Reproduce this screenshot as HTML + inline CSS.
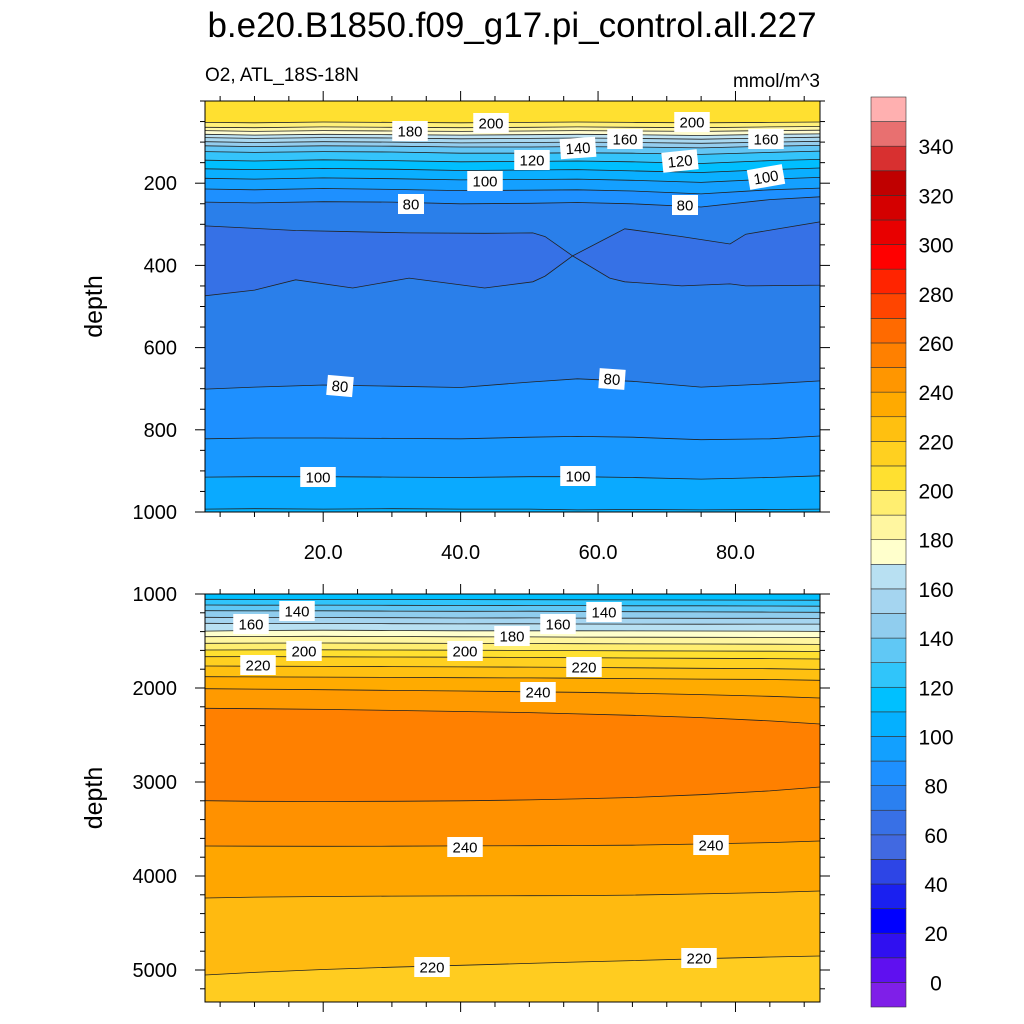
<!DOCTYPE html>
<html><head><meta charset="utf-8"><style>
body{margin:0;background:#fff}
svg{display:block;font-family:"Liberation Sans",sans-serif}
</style></head><body>
<svg id="chart" width="1024" height="1024" viewBox="0 0 1024 1024">
<text x="512" y="37" text-anchor="middle" font-size="35">b.e20.B1850.f09_g17.pi_control.all.227</text>
<text x="205" y="81" font-size="19">O2, ATL_18S-18N</text>
<text x="820" y="87" text-anchor="end" font-size="19">mmol/m^3</text>
<g id="top"></g><g id="bot"></g><g id="cb"></g>
</svg>
<script>
// ---- data ----
const xs = [2.8,10,20,30,40,50,57,65,75,85,92.3];
const topLines = [
[52,53,51,52,53,52,51,52,53,52,51],
[64,65,63,64,65,64,63,64,65,63,62],
[72,74,72,73,74,73,72,73,74,72,71],
[81,83,81,82,83,82,81,82,84,81,80],
[89,91,89,90,92,91,90,91,93,90,88],
[99,101,99,100,102,101,100,101,103,100,98],
[109,111,109,110,112,112,111,112,114,110,108],
[123,125,123,124,127,127,126,127,130,125,122],
[144,146,143,145,148,147,146,148,152,145,142],
[165,167,164,166,169,168,167,170,174,167,163],
[188,190,187,189,192,191,190,193,198,190,186],
[214,216,213,215,218,217,216,219,226,216,212],
[246,248,245,246,250,249,247,250,258,240,233],
[701,696,691,694,697,684,676,682,696,688,681],
[822,820,820,821,822,818,816,818,824,822,815],
[915,914,914,915,916,914,914,916,920,916,912],
[993,992,993,992,993,993,995,994,995,994,993]];
const topColors = ["#ffe030","#fff07a","#fff7a8","#fffcd0","#bfe3f3","#a9d8f0","#94cdee","#63c6f5","#34c4fb","#00bfff","#0aafff","#14a0ff","#1e90ff","#2a7fea","#1e90ff","#1898ff","#0aaaff","#05b5ff"];
const blobX = [2.8,10,16,24.3,32.5,43.5,50.5,52.3,56.3,61.7,63.9,72.2,79.2,81.5,92.3];
const blobTop = [304,310,315,318,321,322,321,330,377,330,311,330,348,324,294];
const blobBottom = [474,460,435,455,431,455,440,426,377,431,440,450,445,450,448];
const botLines = [
[1056,1057,1058,1059,1060,1061,1062,1063,1064,1065,1066],
[1117,1119,1118,1120,1122,1121,1123,1125,1126,1128,1130],
[1178,1180,1179,1182,1184,1183,1186,1188,1190,1193,1195],
[1248,1251,1250,1252,1255,1254,1256,1257,1258,1259,1260],
[1312,1315,1313,1316,1318,1317,1319,1320,1321,1320,1320],
[1395,1388,1385,1388,1392,1391,1392,1393,1394,1395,1398],
[1454,1452,1450,1452,1455,1456,1458,1460,1461,1462,1464],
[1524,1522,1521,1523,1526,1527,1529,1531,1532,1534,1536],
[1596,1595,1594,1596,1598,1600,1602,1604,1606,1608,1612],
[1667,1666,1668,1670,1672,1675,1678,1681,1684,1687,1692],
[1766,1768,1770,1772,1775,1778,1781,1785,1790,1795,1802],
[1880,1882,1884,1887,1890,1893,1896,1900,1905,1910,1918],
[2007,2012,2018,2025,2032,2040,2046,2055,2070,2088,2106],
[2216,2220,2228,2238,2250,2262,2275,2290,2315,2350,2383],
[3199,3205,3207,3205,3200,3190,3180,3165,3135,3095,3053],
[3681,3683,3684,3683,3680,3678,3676,3672,3660,3645,3628],
[4234,4225,4218,4214,4212,4210,4208,4203,4190,4175,4160],
[5053,5025,4995,4970,4950,4930,4915,4900,4880,4862,4851]];
const botColors = ["#00c0ff","#30c4fb","#60c8f5","#8fcdee","#a5d5f0","#b8e0f2","#ffffcc","#fff6a0","#ffee70","#ffe030","#ffd020","#ffc010","#ffab00","#ff9a00","#ff8000","#ff9100","#ffa600","#ffba10","#ffcc20"];
const cbColors = ["#7f1fe8","#5f10f0","#3010f0","#0000ff","#1a20f0","#2d45e6","#4169e1","#3870e6","#2b80f0","#1e90ff","#12a0ff","#05b0ff","#00c0ff","#30c5fa","#60c8f5","#90cdee","#a5d5f0","#b8e0f2","#ffffcc","#fff6a0","#ffee70","#ffe030","#ffd020","#ffc010","#ffaa00","#ff9600","#ff8000","#ff6a00","#ff4500","#ff2400","#ff0000","#e80000","#d40000","#c00000","#d83030","#e87070","#ffb0b0"];
const cbTicks = [0,20,40,60,80,100,120,140,160,180,200,220,240,260,280,300,320,340];
const xTicks = [20,40,60,80];
const topYTicks = [200,400,600,800,1000];
const botYTicks = [1000,2000,3000,4000,5000];
const topLabels = [["180",410,131,0],["200",491,123,0],["200",692,122,0],["160",625,139,0],["160",766,139,0],["140",578,148,-4],["120",532,160,0],["120",680,161,-6],["100",485,181,0],["100",766,177,-10],["80",411,204,0],["80",685,205,0],["80",340,386,5],["80",612,379,4],["100",318,477,0],["100",578,476,0]];
const botLabels = [["140",297,611,0],["140",604,612,0],["160",251,624,0],["160",558,624,0],["180",512,636,0],["200",304,651,0],["200",465,651,0],["220",258,665,0],["220",584,667,0],["240",538,692,0],["240",465,847,0],["240",711,845,0],["220",432,967,0],["220",699,958,0]];
// ---- helpers ----
const NS="http://www.w3.org/2000/svg";
function mk(tag,attrs,parent){const e=document.createElementNS(NS,tag);for(const k in attrs)e.setAttribute(k,attrs[k]);parent.appendChild(e);return e;}
const X0=205,X1=820;
const xScale=x=>X0+(x-2.8)*(X1-X0)/(92.3-2.8);
const topY=d=>101+d*0.411;
const botY=d=>594+(d-1000)*0.094;
function pts(xa,da,ys){return xa.map((x,i)=>xScale(x).toFixed(1)+","+ys(da[i]).toFixed(1));}
function panel(g,lines,colors,ys,dTop,dBot){
  const top=xs.map(()=>dTop), bot=xs.map(()=>dBot);
  const all=[top,...lines,bot];
  for(let i=0;i<all.length-1;i++){
    const p=pts(xs,all[i],ys).concat(pts(xs,all[i+1],ys).reverse());
    const el=mk("polygon",{points:p.join(" "),fill:colors[i],stroke:colors[i],"stroke-width":0.6},g);
    
    
  }
}
function drawLines(g,lines,ys){
  lines.forEach(l=>{
    const el=mk("polyline",{points:pts(xs,l,ys).join(" "),fill:"none",stroke:"#222","stroke-width":0.8},g);
    
    
  });
}
function labels(g,arr){
  arr.forEach(([t,x,y,r])=>{
    const gg=mk("g",{transform:`translate(${x},${y}) rotate(${r})`},g);
    
    
    const w=t.length*9.5+7;
    mk("rect",{x:-w/2,y:-10,width:w,height:20,fill:"#fff"},gg);
    const tx=mk("text",{x:0,y:5.5,"text-anchor":"middle","font-size":15},gg);tx.textContent=t;
  });
}
function axes(g,y0,y1,ys,yTicks,yMinorStep,dMin,dMax,xLabels){
  mk("rect",{x:X0,y:y0,width:X1-X0,height:y1-y0,fill:"none",stroke:"#000","stroke-width":1},g);
  for(let x=5;x<=90;x+=5){
    const px=xScale(x),maj=xTicks.includes(x),L=maj?10:5;
    mk("line",{x1:px,x2:px,y1:y0,y2:y0-L,stroke:"#000","stroke-width":1},g);
    mk("line",{x1:px,x2:px,y1:y1,y2:y1+L,stroke:"#000","stroke-width":1},g);
  }
  for(let d=Math.ceil(dMin/yMinorStep)*yMinorStep;d<=dMax;d+=yMinorStep){
    const py=ys(d),maj=yTicks.includes(d),L=maj?10:5;
    mk("line",{x1:X0,x2:X0-L,y1:py,y2:py,stroke:"#000","stroke-width":1},g);
    mk("line",{x1:X1,x2:X1+L,y1:py,y2:py,stroke:"#000","stroke-width":1},g);
  }
  yTicks.forEach(d=>{const t=mk("text",{x:177,y:ys(d)+7,"text-anchor":"end","font-size":20},g);t.textContent=d;
    });
  if(xLabels) xTicks.forEach(x=>{const t=mk("text",{x:xScale(x),y:559,"text-anchor":"middle","font-size":20},g);t.textContent=x.toFixed(1);
    });
  const yt=mk("text",{x:0,y:0,"text-anchor":"middle","font-size":25,transform:`translate(102,${(y0+y1)/2}) rotate(-90)`},g);yt.textContent="depth";
  
}
// top panel
const gt=document.getElementById("top");


panel(gt,topLines,topColors,topY,0,1000);
const bp=blobX.map(x=>xScale(x).toFixed(1)).map((x,i)=>x+","+topY(blobTop[i]).toFixed(1)).concat(blobX.map((x,i)=>xScale(x).toFixed(1)+","+topY(blobBottom[i]).toFixed(1)).reverse());
const blob=mk("polygon",{points:bp.join(" "),fill:"#3671e6",stroke:"#222","stroke-width":0.8},gt);


drawLines(gt,topLines,topY);
labels(gt,topLabels);
axes(gt,101,512,topY,topYTicks,50,0,1000,true);
// bottom panel
const gb=document.getElementById("bot");


panel(gb,botLines,botColors,botY,1000,5340);
drawLines(gb,botLines,botY);
labels(gb,botLabels);
axes(gb,594,1002,botY,botYTicks,200,1000,5340,false);
// colorbar
const gc=document.getElementById("cb");


const CB0=1007,CBH=910/cbColors.length;
cbColors.forEach((c,i)=>{
  const r=mk("rect",{x:871,y:CB0-(i+1)*CBH,width:35,height:CBH,fill:c,stroke:"#333","stroke-width":0.6},gc);
  
  
});
cbTicks.forEach(v=>{
  const t=mk("text",{x:936,y:CB0-(v/10+1)*CBH+8,"text-anchor":"middle","font-size":21},gc);t.textContent=v;
  
  
});
</script>
</body></html>
